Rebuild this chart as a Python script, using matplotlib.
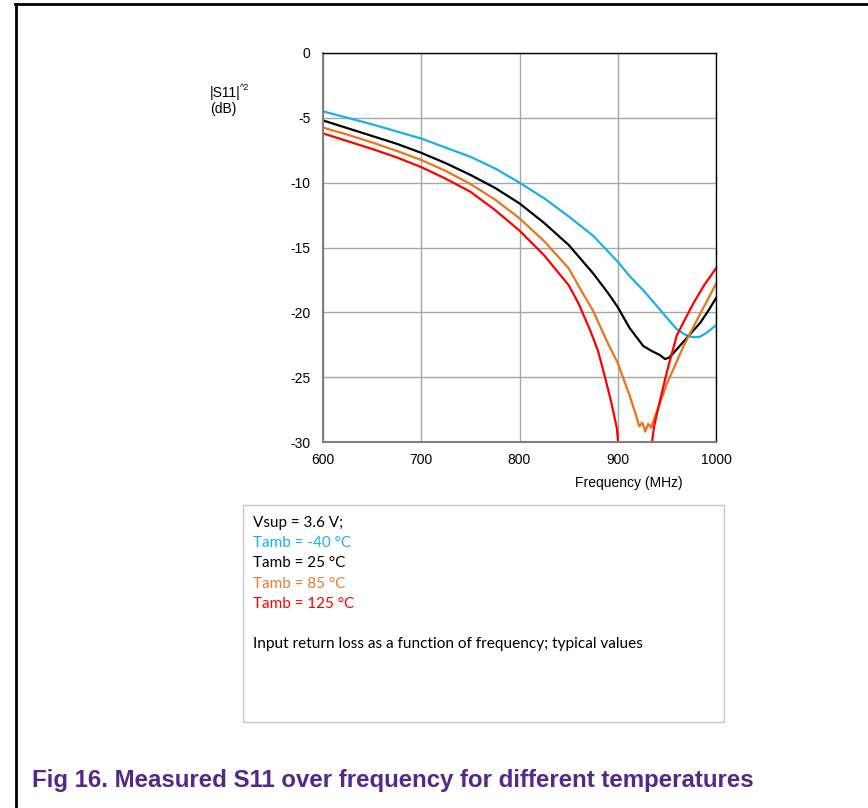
import matplotlib.pyplot as plt
import numpy as np
from matplotlib.patches import Rectangle
from matplotlib.lines import Line2D

plt.rcParams['axes.unicode_minus'] = False
plt.rcParams['font.family'] = ['Liberation Sans', 'DejaVu Sans']

# measured |S11|^2 (dB) vs frequency (MHz)
f_m40 = [600, 625, 650, 675, 700, 725, 750, 775, 800, 825, 850, 875, 900,
         912, 926, 943, 960, 968, 975, 983, 990, 1000]
s_m40 = [-4.5, -5.0, -5.5, -6.05, -6.6, -7.3, -8.0, -8.9, -10.0, -11.2, -12.6,
         -14.1, -16.1, -17.2, -18.3, -19.8, -21.3, -21.7, -21.9, -21.9, -21.6, -21.0]

f_25 = [600, 625, 650, 675, 700, 725, 750, 775, 800, 825, 850, 875, 890, 900,
        912, 926, 935, 943, 948, 952, 956, 963, 970, 984, 992, 1000]
s_25 = [-5.2, -5.8, -6.4, -7.0, -7.7, -8.5, -9.4, -10.4, -11.6, -13.1, -14.8,
        -17.0, -18.5, -19.6, -21.2, -22.6, -23.0, -23.3, -23.6, -23.5, -23.2,
        -22.6, -22.0, -20.8, -19.9, -18.9]

f_85 = [600, 625, 650, 675, 700, 725, 750, 775, 800, 825, 850, 862, 875, 890,
        900, 912, 918, 922, 925, 928, 931, 934, 937, 943, 950, 967, 984, 1000]
s_85 = [-5.75, -6.3, -6.9, -7.55, -8.25, -9.1, -10.1, -11.3, -12.75, -14.5,
        -16.6, -18.2, -19.9, -22.4, -23.9, -26.4, -27.8, -28.8, -28.5, -29.2,
        -28.6, -28.9, -28.2, -27.0, -25.5, -22.6, -20.1, -17.8]

# 125 degC dips below the -30 dB axis limit between ~900 and ~935 MHz
f_125 = [600, 625, 650, 675, 700, 725, 750, 775, 800, 825, 850, 860, 872, 880,
         887, 893, 899, 901, 918, 934, 937, 943, 950, 960, 968, 977, 988, 1000]
s_125 = [-6.2, -6.8, -7.4, -8.05, -8.8, -9.7, -10.7, -12.1, -13.7, -15.6,
         -17.9, -19.3, -21.4, -23.0, -25.0, -26.8, -28.9, -30.5, np.nan, -30.5,
         -28.8, -26.8, -24.6, -21.8, -20.6, -19.3, -17.9, -16.6]

series = [(f_m40, s_m40, '#1ab0e8'), (f_25, s_25, '#000000'),
          (f_85, s_85, '#e8751a'), (f_125, s_125, '#ff0000')]

legend_lines = ['Vsup = 3.6 V;', 'Tamb = -40 °C', 'Tamb = 25 °C',
                'Tamb = 85 °C', 'Tamb = 125 °C']
legend_colors = ['#000000', '#1ab0f0', '#000000', '#e87c2a', '#ff0000']
note = 'Input return loss as a function of frequency; typical values'
caption = 'Fig 16. Measured S11 over frequency for different temperatures'

W, H = 868, 808
fig = plt.figure(figsize=(W / 100, H / 100), dpi=100)

def px(x, y):
    return x / W, 1 - y / H

ax = fig.add_axes([323 / W, 1 - 442 / H, (716 - 323) / W, (442 - 53) / H])
for f, s, c in series:
    ax.plot(f, s, color=c, lw=1.6, solid_joinstyle='round')

ax.set_xlim(600, 1000)
ax.set_ylim(-30, 0)
ax.set_xticks([600, 700, 800, 900, 1000])
ax.set_yticks([0, -5, -10, -15, -20, -25, -30])
ax.grid(True, color='#a6a6a6', lw=1.0)
ax.set_axisbelow(True)
ax.tick_params(length=0, labelsize=10, colors='#000000')
ax.tick_params(axis='y', pad=9)
ax.tick_params(axis='x', pad=8)
for side in ['left', 'bottom']:
    ax.spines[side].set_color('#7f7f7f')
    ax.spines[side].set_linewidth(1.5)
for side in ['top', 'right']:
    ax.spines[side].set_color('#000000')
    ax.spines[side].set_linewidth(1.0)

fig.text(*px(629, 483), 'Frequency (MHz)', ha='center', va='center', fontsize=10)
fig.text(*px(240, 93), '|S11|', ha='right', va='center', fontsize=10)
fig.text(*px(240, 88), '^2', ha='left', va='center', fontsize=6.5)
fig.text(*px(223, 109), '(dB)', ha='center', va='center', fontsize=10)

# note box under the chart
x0, y0 = px(242.5, 722)
x1, y1 = px(723.5, 505)
fig.patches.append(Rectangle((x0, y0), x1 - x0, y1 - y0, transform=fig.transFigure,
                             fill=False, edgecolor='#c8c8c8', lw=1.0))
for i, (t, c) in enumerate(zip(legend_lines, legend_colors)):
    fig.text(*px(253, 523 + 20.2 * i), t, color=c, fontsize=11, family='Lato',
             ha='left', va='center')
fig.text(*px(253, 644), note, fontsize=11.1, family='Lato', ha='left', va='center')

# page frame and caption
fig.add_artist(Line2D([16 / W, 16 / W], [0, 1 - 4 / H], transform=fig.transFigure,
                      color='black', lw=2.0))
fig.add_artist(Line2D([15 / W, 1], [1 - 4 / H, 1 - 4 / H], transform=fig.transFigure,
                      color='black', lw=2.0))
fig.text(*px(32, 780), caption, color='#542788', fontsize=17.3, fontweight='bold',
         ha='left', va='center')

fig.savefig('out.png', dpi=100)
